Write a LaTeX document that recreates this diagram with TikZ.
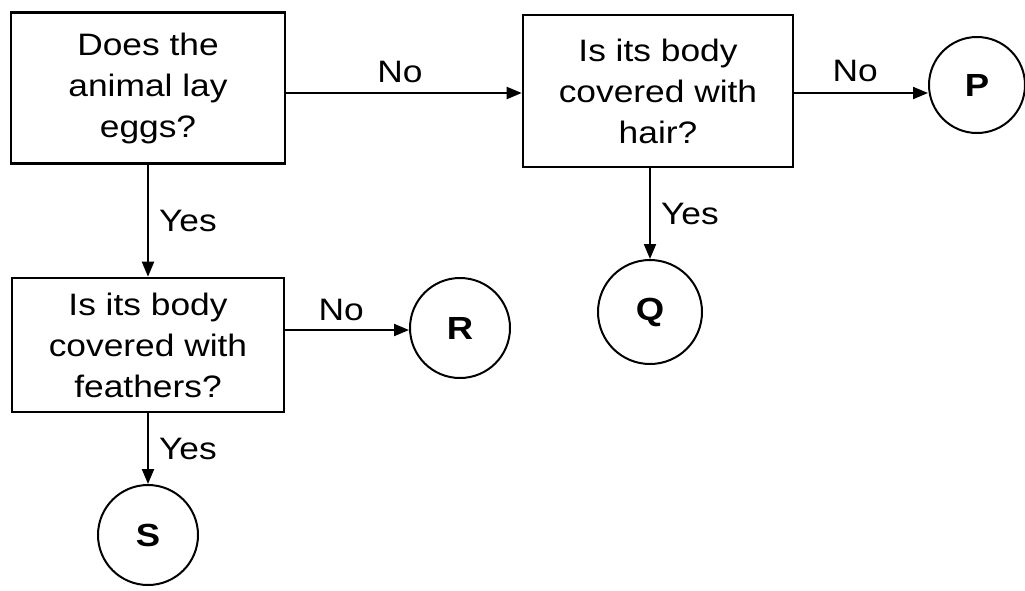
\documentclass[tikz,border=0pt]{standalone}
\usepackage{fontspec}
\setmainfont[FakeStretch=1.14]{Liberation Sans}
\usetikzlibrary{arrows.meta}
\begin{document}
\begin{tikzpicture}[x=1pt,y=-1pt,
  qbox/.style={draw,line width=2.6pt,align=center,inner sep=0pt,
    font=\fontsize{31}{41}\selectfont},
  endc/.style={draw,circle,line width=2pt,inner sep=0pt,
    font=\fontsize{32}{36}\selectfont\bfseries},
  conn/.style={line width=2pt,-{Triangle[length=15pt,width=12pt]}},
  lbl/.style={font=\fontsize{31}{34}\selectfont,inner sep=0pt}]
\useasboundingbox[fill=white] (0,0) rectangle (1025,590);
\node[qbox,minimum width=274pt,minimum height=151pt] (A) at (148,88) {Does the\\animal lay\\eggs?};
\node[qbox,minimum width=270pt,minimum height=152pt] (B) at (658,91) {Is its body\\covered with\\hair?};
\node[qbox,minimum width=272pt,minimum height=134pt] (C) at (148,345) {Is its body\\covered with\\feathers?};
\node[endc,minimum size=96pt] (P) at (977,85) {P};
\node[endc,minimum size=104pt] (Q) at (650,312) {Q};
\node[endc,minimum size=100pt] (R) at (460,328) {R};
\node[endc,minimum size=100pt] (S) at (148,535) {S};
\draw[conn] (A.east |- 0,93) -- node[lbl,above=9pt,xshift=-4pt] {No} (B.west |- 0,93);
\draw[conn] (B.east |- 0,93) -- node[lbl,above=10pt,xshift=-6pt] {No} (P.west |- 0,93);
\draw[conn] (A.south) -- node[lbl,right=10pt] {Yes} (C.north);
\draw[conn] (B.south -| Q) -- node[lbl,right=10pt] {Yes} (Q.north);
\draw[conn] (C.east |- 0,330) -- node[lbl,above=8pt,xshift=-6pt] {No} (R.west |- 0,330);
\draw[conn] (C.south) -- node[lbl,right=10pt] {Yes} (S.north);
\end{tikzpicture}
\end{document}
